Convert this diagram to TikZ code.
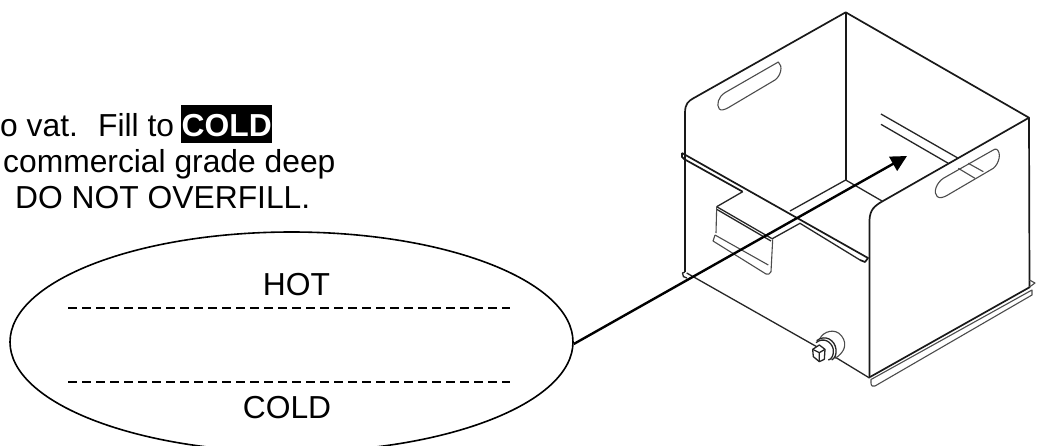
\documentclass[tikz,border=0pt]{standalone}
\usepackage{fontspec}
\setmainfont{Liberation Sans}
\usetikzlibrary{arrows.meta,shapes.geometric}
\tikzset{
  txt/.style={anchor=base west,inner sep=0pt,font=\fontsize{31.8}{36}\selectfont},
  mid/.style={anchor=base,inner sep=0pt,font=\fontsize{31.8}{36}\selectfont},
  hi/.style={anchor=base west,inner sep=0pt,font=\fontsize{31.8}{36}\selectfont\bfseries,text=white},
  oval/.style={draw,ellipse,line width=1.6pt,minimum width=563pt,minimum height=220pt,inner sep=0pt},
  lvl/.style={line width=1.3pt,dash pattern=on 8.5pt off 5.5pt},
  heavy/.style={line width=1.7pt,line join=round,draw=black!90},
  med/.style={line width=1.3pt,line join=round,draw=black!85},
  thin/.style={line width=1.1pt,line join=round,draw=black!70},
  z1/.style={shift={(650,0)},x=.3333pt,y=-.3333pt},
  z2/.style={shift={(650,215)},x=.3333pt,y=-.3333pt},
  pointer/.style={line width=2.4pt,-{Triangle[length=16pt,width=16pt]}}
}
\begin{document}
\begin{tikzpicture}[x=1pt,y=-1pt]
\useasboundingbox (0,0) rectangle (1037,445);
\clip (0,0) rectangle (1037,445);
\fill[white] (0,0) rectangle (1037,445);
% text
\node[txt] (t1) at (0,136) {o vat.};
\node[txt] (t1b) at (98,136) {Fill to};
\fill[black] (181,105) rectangle (272,143);
\node[hi] (t1c) at (181.5,136) {COLD};
\node[txt] (t2) at (3,172) {commercial grade deep};
\node[txt] (t3) at (15,208.5) {DO NOT OVERFILL.};
% oval
\node[oval] (ell) at (291.5,342) {};
\node[mid] (hot) at (296.5,295) {HOT};
\node[mid] (cold) at (287,418) {COLD};
\coordinate (a1) at (68,308); \coordinate (a2) at (510,308);
\coordinate (b1) at (68,382); \coordinate (b2) at (510,382);
\draw[lvl] (a1) -- (a2);
\draw[lvl] (b1) -- (b2);
% vat walls
\draw[heavy] (685,155) -- (685,113) .. controls (685,103) and (689,101) .. (693,98.5) -- (845.7,12.3) -- (1029,117.7) -- (883,201) .. controls (874,206) and (870,210) .. (869.5,220) -- (869.5,378);
\draw[heavy] (845.7,12.3) -- (845.7,180);
\draw[heavy] (1029,117.7) -- (1029.5,287);
\draw[heavy] (685,155) -- (685,272);
% slots and rails
\begin{scope}[z1]
\draw[thin] (385,186) -- (225,278) .. controls (205,290) and (198,315) .. (208,327) .. controls (213,332) and (222,330) .. (235,323) -- (375,240) .. controls (392,228) and (400,198) .. (385,186) -- cycle;
\draw[thin] (1030,450) -- (880,535) .. controls (860,548) and (848,578) .. (862,590) .. controls (870,596) and (880,592) .. (890,587) -- (1030,505) .. controls (1048,490) and (1055,458) .. (1040,448) .. controls (1036,446) and (1034,448) .. (1030,450) -- cycle;
\draw[med] (693,342) -- (925,475);
\draw[med] (693,373) -- (895,490);
\draw[thin] (955,490) -- (1000,515);
\draw[thin] (925,505) -- (975,535);
\end{scope}
% floor lines and rim with notch
\draw[med] (790,211) -- (845.7,180) -- (882,201);
\draw[heavy] (682,153) -- (868,258) -- (865,262) -- (860,260);
\draw[heavy] (682,153) .. controls (681,156) and (682,158) .. (684,159) -- (742.7,191.7);
\draw[med] (742.7,191.7) -- (716.7,206.7);
\draw[med] (716.7,206.7) -- (771.7,238.5);
\draw[med] (717,209.5) -- (771,241);
\draw[med] (771.7,239) -- (800,223.3) -- (860,260);
\draw[thin] (716.7,206.7) -- (716,233);
\draw[thin] (715,235) -- (713,241) -- (766,274) .. controls (768,275) and (770,274) .. (771,271.7) -- (772.7,239.3);
\draw[thin] (715,235) -- (768.3,265);
% bottom edges
\draw[med] (685,272) -- (682.5,273) .. controls (682,276) and (684,278) .. (687,278);
\draw[med] (686.7,273) -- (816.7,346.7);
\draw[med] (835,357) -- (869.5,378);
\draw[heavy] (870,377) -- (1030,287);
\draw[thin] (871,379.5) -- (1032,290) -- (1032,295) -- (875,386) .. controls (873,387) and (871,386) .. (871,383) -- cycle;
\draw[thin] (1029.5,280) -- (1035,283) -- (1029.5,287);
% drain
\begin{scope}[shift={(780,310)},x=.3333pt,y=-.3333pt]
\draw[thin] (120,85) .. controls (130,65) and (165,52) .. (185,78) .. controls (205,105) and (190,130) .. (165,145);
\draw[med] (108,98) .. controls (130,80) and (155,95) .. (160,118) .. controls (162,135) and (155,148) .. (145,150);
\draw[med] (110,92) .. controls (135,72) and (165,90) .. (168,118) .. controls (170,132) and (165,145) .. (155,150);
\draw[med,fill=white] (98,118) -- (118,105) -- (135,118) -- (133,148) -- (118,155) -- (100,140) -- cycle;
\draw[med] (98,118) -- (118,128) -- (135,118) (118,128) -- (118,155);
\end{scope}
% pointer
\coordinate (tip) at (907,156);
\draw[pointer] (ell.east) ++(0,2) -- (tip);
\end{tikzpicture}
\end{document}
